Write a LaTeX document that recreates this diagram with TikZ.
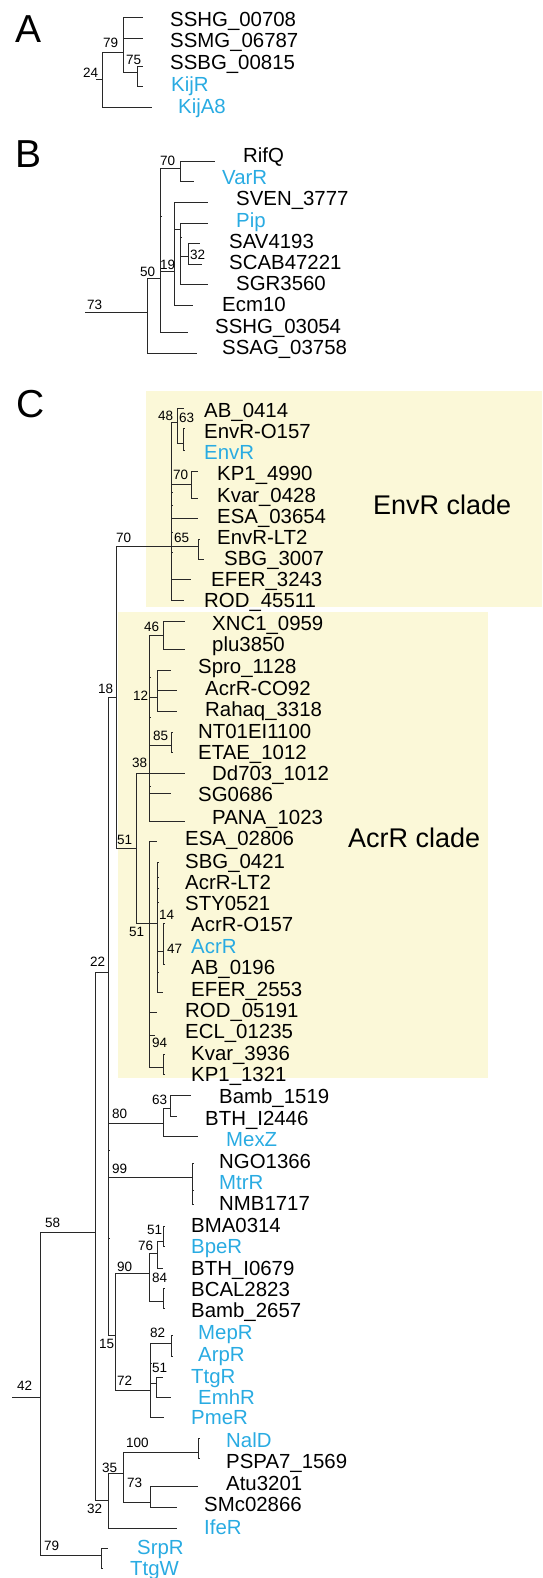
\documentclass[tikz,border=0pt]{standalone}
\usepackage{fontspec}
\setmainfont{Liberation Sans}
\definecolor{hitblue}{RGB}{41,171,226}
\definecolor{cladefill}{RGB}{251,248,216}
\definecolor{treegray}{RGB}{40,40,40}

\begin{document}
\begin{tikzpicture}[x=1pt, y=-1pt,
  leaf/.style={anchor=base west, inner sep=0pt, yshift=-7.3pt,
               font=\fontsize{20.4}{22}\selectfont},
  hit/.style={leaf, text=hitblue},
  bs/.style={anchor=base west, inner sep=0pt, yshift=-4.8pt,
             font=\fontsize{13.5}{15}\selectfont},
  panel/.style={anchor=base west, inner sep=0pt, yshift=-14pt,
                font=\fontsize{39}{40}\selectfont},
  cladename/.style={anchor=base west, inner sep=0pt, yshift=-9.7pt,
                    font=\fontsize{27}{28}\selectfont},
  cladebox/.style={fill=cladefill, draw=none},
  branch/.style={draw=treegray, line width=0.9pt}
]
\useasboundingbox (0,0) rectangle (542,1578);

% Clade backgrounds
\path[cladebox] (146,391) rectangle (542,607);
\path[cladebox] (118,612) rectangle (488,1078);
\node[cladename] (envrclade) at (373,505) {EnvR clade};
\node[cladename] (acrrclade) at (348,838) {AcrR clade};

% Panel letters
\node[panel] (pA) at (15,29)  {A};
\node[panel] (pB) at (15,154) {B};
\node[panel] (pC) at (16,403) {C};

%%%%%%%%%%%%%%%% Panel A
\coordinate (sA)   at (96,79);
\coordinate (nA24) at (102,79);
\coordinate (nA79) at (123,52);
\coordinate (nA75) at (137,72);
\coordinate (tA1)  at (143,17);
\coordinate (tA2)  at (143,38);
\coordinate (tA3)  at (143,66);
\coordinate (tA4)  at (143,86);
\coordinate (tA5)  at (152,107);

\draw[branch] (sA) -- (nA24) (nA24) |- (nA79) (nA24) |- (tA5);
\draw[branch] (nA79) |- (tA1) (nA79) |- (tA2) (nA79) |- (nA75);
\draw[branch] (nA75) |- (tA3) (nA75) |- (tA4);

\node[bs] (bA24) at (83,73)  {24};
\node[bs] (bA79) at (103,43) {79};
\node[bs] (bA75) at (126,60) {75};

\node[leaf] (sshg00708) at (170,19)  {SSHG\_00708};
\node[leaf] (ssmg06787) at (170,40)  {SSMG\_06787};
\node[leaf] (ssbg00815) at (170,62)  {SSBG\_00815};
\node[hit]  (kijr)      at (171,84)  {KijR};
\node[hit]  (kija8)     at (178,106) {KijA8};

%%%%%%%%%%%%%%%% Panel B
\coordinate (sB)    at (85,312);
\coordinate (nB0)   at (147,312);
\coordinate (nB50)  at (160,278);
\coordinate (nB70)  at (180,168);
\coordinate (nB19)  at (174,271);
\coordinate (nB19i) at (180,229);
\coordinate (nB32)  at (188,256);
\coordinate (tRifQ)  at (215,161);
\coordinate (tVarR)  at (194,181);
\coordinate (tSVEN)  at (208,202);
\coordinate (tPip)   at (208,223);
\coordinate (tSAV)   at (200,243);
\coordinate (tSCAB)  at (202,264);
\coordinate (tSGR)   at (208,284);
\coordinate (tEcm)   at (193,305);
\coordinate (tSSHGb) at (188,332);
\coordinate (tSSAG)  at (197,353);

\draw[branch] (sB) -- (nB0) (nB0) |- (nB50) (nB0) |- (tSSAG);
\draw[branch] (nB50) |- (nB70) (nB50) |- (nB19) (nB50) |- (tSSHGb);
\draw[branch] (nB70) |- (tRifQ) (nB70) |- (tVarR);
\draw[branch] (nB19) |- (tSVEN) (nB19) |- (nB19i) (nB19) |- (tEcm);
\draw[branch] (nB19i) |- (tPip) (nB19i) |- (nB32) (nB19i) |- (tSGR);
\draw[branch] (nB32) |- (tSAV) (nB32) |- (tSCAB);
\draw[branch] (160,216) -- ++(2,0) (180,237) -- ++(2,0);

\node[bs] (bB73) at (87,305)  {73};
\node[bs] (bB50) at (140,272) {50};
\node[bs] (bB70) at (160,161) {70};
\node[bs] (bB19) at (160,265) {19};
\node[bs] (bB32) at (190,255) {32};

\node[leaf] (rifq)      at (243,155) {RifQ};
\node[hit]  (varr)      at (222,177) {VarR};
\node[leaf] (sven3777)  at (236,198) {SVEN\_3777};
\node[hit]  (pip)       at (236,220) {Pip};
\node[leaf] (sav4193)   at (229,241) {SAV4193};
\node[leaf] (scab47221) at (229,262) {SCAB47221};
\node[leaf] (sgr3560)   at (236,283) {SGR3560};
\node[leaf] (ecm10)     at (222,304) {Ecm10};
\node[leaf] (sshg03054) at (215,326) {SSHG\_03054};
\node[leaf] (ssag03758) at (222,347) {SSAG\_03758};

%%%%%%%%%%%%%%%% Panel C
% backbone
\coordinate (sC)    at (12,1397);
\coordinate (nC42)  at (40,1397);
\coordinate (nC58)  at (95,1232);
\coordinate (nC79)  at (101,1555);
\coordinate (nC22)  at (108,972);
\coordinate (nC32)  at (108,1500);
\coordinate (nC18)  at (116,697);
\coordinate (nC80)  at (163,1123);
\coordinate (nC99)  at (192,1177);
\coordinate (nC15)  at (115,1335);
\coordinate (nC70)  at (171,546);
\coordinate (nC51o) at (136,848);

\draw[branch] (sC) -- (nC42) (nC42) |- (nC58) (nC42) |- (nC79);
\draw[branch] (nC58) |- (nC22) (nC58) |- (nC32);
\draw[branch] (nC22) |- (nC18) (nC22) |- (nC80) (nC22) |- (nC99) (nC22) |- (nC15);
\draw[branch] (nC18) |- (nC70) (nC18) |- (nC51o);
\draw[branch] (108,1150) -- ++(2,0) (108,1238) -- ++(2,0);

% EnvR clade
\coordinate (nC48)  at (177,422);
\coordinate (nC63)  at (183,443);
\coordinate (nC70b) at (191,484);
\coordinate (nC65)  at (198,546);
\coordinate (tAB0414)   at (184,408);
\coordinate (tEnvRO157) at (185,428);
\coordinate (tEnvR)     at (185,450);
\coordinate (tKP14990)  at (198,471);
\coordinate (tKvar0428) at (198,498);
\coordinate (tESA03654) at (198,518);
\coordinate (tEnvRLT2)  at (200,539);
\coordinate (tSBG3007)  at (204,559);
\coordinate (tEFER3243) at (191,579);
\coordinate (tROD45511) at (184,600);

\draw[branch] (nC70) |- (nC48) (nC70) |- (nC70b) (nC70) |- (tESA03654)
              (nC70) |- (nC65) (nC70) |- (tEFER3243) (nC70) |- (tROD45511);
\draw[branch] (nC48) |- (tAB0414) (nC48) |- (nC63);
\draw[branch] (nC63) |- (tEnvRO157) (nC63) |- (tEnvR);
\draw[branch] (nC70b) |- (tKP14990) (nC70b) |- (tKvar0428);
\draw[branch] (nC65) |- (tEnvRLT2) (nC65) |- (tSBG3007);
\draw[branch] (171,492) -- ++(2,0) (171,505) -- ++(2,0)
              (171,532) -- ++(2,0) (171,552) -- ++(2,0);

% AcrR clade
\coordinate (nC38)  at (149,773);
\coordinate (nC51i) at (149,923);
\coordinate (nC46)  at (163,635);
\coordinate (nC12)  at (157,697);
\coordinate (nC85)  at (171,745);
\coordinate (nC14)  at (157,923);
\coordinate (nC47)  at (163,951);
\coordinate (nC94)  at (163,1067);
\coordinate (tXNC1)     at (185,621);
\coordinate (tplu)      at (185,649);
\coordinate (tSpro)     at (171,670);
\coordinate (tAcrRCO92) at (177,690);
\coordinate (tRahaq)    at (177,711);
\coordinate (tNT01)     at (173,732);
\coordinate (tETAE)     at (173,752);
\coordinate (tDd703)    at (185,773);
\coordinate (tSG0686)   at (171,793);
\coordinate (tPANA)     at (185,821);
\coordinate (tESA02806) at (157,841);
\coordinate (tSBG0421)  at (159,862);
\coordinate (tEFER2553) at (163,992);
\coordinate (tAcrRO157) at (165,923);
\coordinate (tAB0196)   at (165,964);
\coordinate (tROD05191) at (157,1012);
\coordinate (tECL)      at (155,1035);
\coordinate (tKvar3936) at (165,1054);
\coordinate (tKP11321)  at (165,1074);

\draw[branch] (nC51o) |- (nC38) (nC51o) |- (nC51i);
\draw[branch] (nC38) |- (nC46) (nC38) |- (nC12) (nC38) |- (nC85) (nC38) |- (tDd703)
              (nC38) |- (tSG0686) (nC38) |- (tPANA);
\draw[branch] (nC46) |- (tXNC1) (nC46) |- (tplu);
\draw[branch] (nC12) |- (tSpro) (nC12) |- (tAcrRCO92) (nC12) |- (tRahaq);
\draw[branch] (nC85) |- (tNT01) (nC85) |- (tETAE);
\draw[branch] (nC51i) |- (tESA02806) (nC51i) |- (nC14) (nC51i) |- (tROD05191)
              (nC51i) |- (tECL) (nC51i) |- (nC94);
\draw[branch] (nC14) |- (tSBG0421) (nC14) |- (nC47) (nC14) |- (tEFER2553);
\draw[branch] (nC47) |- (tAcrRO157) (nC47) |- (tAB0196);
\draw[branch] (nC94) |- (tKvar3936) (nC94) |- (tKP11321);
\draw[branch] (149,677) -- ++(2,0) (149,717) -- ++(2,0) (149,786) -- ++(2,0)
              (157,877) -- ++(2,0) (157,888) -- ++(2,0) (157,902) -- ++(2,0)
              (157,972) -- ++(2,0);

% lower groups
\coordinate (nC63b) at (170,1108);
\coordinate (nC90)  at (149,1273);
\coordinate (nC76)  at (157,1253);
\coordinate (nC51b) at (163,1241);
\coordinate (nC84)  at (163,1301);
\coordinate (nC72)  at (150,1390);
\coordinate (nC82)  at (171,1343);
\coordinate (nC51c) at (156,1383);
\coordinate (nC35)  at (123,1473);
\coordinate (nC100) at (198,1452);
\coordinate (nC73)  at (150,1502);
\coordinate (tBamb1519)  at (191,1095);
\coordinate (tBTHI2446)  at (177,1116);
\coordinate (tMexZ)      at (198,1136);
\coordinate (tNGO1366)   at (194,1163);
\coordinate (tNMB1717)   at (194,1204);
\coordinate (tBMA0314)   at (165,1226);
\coordinate (tBpeR)      at (165,1246);
\coordinate (tBTHI0679)  at (163,1268);
\coordinate (tBCAL2823)  at (165,1288);
\coordinate (tBamb2657)  at (165,1308);
\coordinate (tMepR)      at (173,1335);
\coordinate (tArpR)      at (173,1356);
\coordinate (tTtgR)      at (163,1377);
\coordinate (tEmhR)      at (171,1397);
\coordinate (tPmeR)      at (164,1417);
\coordinate (tNalD)      at (200,1438);
\coordinate (tPSPA7)     at (200,1458);
\coordinate (tAtu3201)   at (198,1486);
\coordinate (tSMc02866)  at (177,1507);
\coordinate (tIfeR)      at (177,1528);
\coordinate (tSrpR)      at (108,1548);
\coordinate (tTtgW)      at (103,1568);

\draw[branch] (nC80) |- (nC63b) (nC80) |- (tMexZ);
\draw[branch] (nC63b) |- (tBamb1519) (nC63b) |- (tBTHI2446);
\draw[branch] (nC99) |- (tNGO1366) (nC99) |- (tNMB1717) (192,1190) -- ++(2,0);
\draw[branch] (nC15) |- (nC90) (nC15) |- (nC72);
\draw[branch] (nC90) |- (nC76) (nC90) |- (nC84);
\draw[branch] (nC76) |- (nC51b) (nC76) |- (tBTHI0679);
\draw[branch] (nC51b) |- (tBMA0314) (nC51b) |- (tBpeR);
\draw[branch] (nC84) |- (tBCAL2823) (nC84) |- (tBamb2657);
\draw[branch] (nC72) |- (nC82) (nC72) |- (nC51c) (nC72) |- (tPmeR) (150,1363) -- ++(2,0);
\draw[branch] (nC82) |- (tMepR) (nC82) |- (tArpR);
\draw[branch] (nC51c) |- (tTtgR) (nC51c) |- (tEmhR);
\draw[branch] (nC32) |- (nC35) (nC32) |- (tIfeR);
\draw[branch] (nC35) |- (nC100) (nC35) |- (nC73);
\draw[branch] (nC100) |- (tNalD) (nC100) |- (tPSPA7);
\draw[branch] (nC73) |- (tAtu3201) (nC73) |- (tSMc02866);
\draw[branch] (nC79) |- (tSrpR) (nC79) |- (tTtgW);

% support values
\node[bs] (bC70)  at (116,538)  {70};
\node[bs] (bC48)  at (158,416)  {48};
\node[bs] (bC63)  at (179,418)  {63};
\node[bs] (bC70b) at (173,475)  {70};
\node[bs] (bC65)  at (174,538)  {65};
\node[bs] (bC18)  at (98,689)   {18};
\node[bs] (bC46)  at (144,627)  {46};
\node[bs] (bC12)  at (133,696)  {12};
\node[bs] (bC85)  at (153,736)  {85};
\node[bs] (bC38)  at (132,763)  {38};
\node[bs] (bC51o) at (117,840)  {51};
\node[bs] (bC51i) at (129,932)  {51};
\node[bs] (bC14)  at (159,915)  {14};
\node[bs] (bC47)  at (167,949)  {47};
\node[bs] (bC94)  at (152,1043) {94};
\node[bs] (bC22)  at (90,962)   {22};
\node[bs] (bC58)  at (45,1223)  {58};
\node[bs] (bC80)  at (112,1114) {80};
\node[bs] (bC63b) at (152,1100) {63};
\node[bs] (bC99)  at (112,1169) {99};
\node[bs] (bC90)  at (117,1267) {90};
\node[bs] (bC76)  at (138,1246) {76};
\node[bs] (bC51b) at (147,1230) {51};
\node[bs] (bC84)  at (152,1278) {84};
\node[bs] (bC15)  at (99,1344)  {15};
\node[bs] (bC72)  at (117,1381) {72};
\node[bs] (bC82)  at (150,1333) {82};
\node[bs] (bC51c) at (152,1368) {51};
\node[bs] (bC42)  at (17,1386)  {42};
\node[bs] (bC35)  at (102,1468) {35};
\node[bs] (bC100) at (126,1443) {100};
\node[bs] (bC73)  at (127,1483) {73};
\node[bs] (bC32)  at (87,1509)  {32};
\node[bs] (bC79)  at (44,1546)  {79};

% leaf labels
\node[leaf] (ab0414)    at (204,410)  {AB\_0414};
\node[leaf] (envro157)  at (204,431)  {EnvR-O157};
\node[hit]  (envr)      at (204,452)  {EnvR};
\node[leaf] (kp14990)   at (217,473)  {KP1\_4990};
\node[leaf] (kvar0428)  at (217,495)  {Kvar\_0428};
\node[leaf] (esa03654)  at (217,516)  {ESA\_03654};
\node[leaf] (envrlt2)   at (217,537)  {EnvR-LT2};
\node[leaf] (sbg3007)   at (224,558)  {SBG\_3007};
\node[leaf] (efer3243)  at (211,579)  {EFER\_3243};
\node[leaf] (rod45511)  at (204,600)  {ROD\_45511};
\node[leaf] (xnc10959)  at (212,623)  {XNC1\_0959};
\node[leaf] (plu3850)   at (212,644)  {plu3850};
\node[leaf] (spro1128)  at (198,666)  {Spro\_1128};
\node[leaf] (acrrco92)  at (205,688)  {AcrR-CO92};
\node[leaf] (rahaq3318) at (205,709)  {Rahaq\_3318};
\node[leaf] (nt01)      at (198,731)  {NT01EI1100};
\node[leaf] (etae1012)  at (198,752)  {ETAE\_1012};
\node[leaf] (dd703)     at (212,773)  {Dd703\_1012};
\node[leaf] (sg0686)    at (198,794)  {SG0686};
\node[leaf] (pana1023)  at (212,817)  {PANA\_1023};
\node[leaf] (esa02806)  at (185,838)  {ESA\_02806};
\node[leaf] (sbg0421)   at (185,861)  {SBG\_0421};
\node[leaf] (acrrlt2)   at (185,882)  {AcrR-LT2};
\node[leaf] (sty0521)   at (185,903)  {STY0521};
\node[leaf] (acrro157)  at (191,924)  {AcrR-O157};
\node[hit]  (acrr)      at (191,946)  {AcrR};
\node[leaf] (ab0196)    at (191,967)  {AB\_0196};
\node[leaf] (efer2553)  at (191,989)  {EFER\_2553};
\node[leaf] (rod05191)  at (185,1010) {ROD\_05191};
\node[leaf] (ecl01235)  at (185,1031) {ECL\_01235};
\node[leaf] (kvar3936)  at (191,1053) {Kvar\_3936};
\node[leaf] (kp11321)   at (191,1074) {KP1\_1321};
\node[leaf] (bamb1519)  at (219,1096) {Bamb\_1519};
\node[leaf] (bthi2446)  at (205,1118) {BTH\_I2446};
\node[hit]  (mexz)      at (226,1139) {MexZ};
\node[leaf] (ngo1366)   at (219,1161) {NGO1366};
\node[hit]  (mtrr)      at (219,1182) {MtrR};
\node[leaf] (nmb1717)   at (219,1203) {NMB1717};
\node[leaf] (bma0314)   at (191,1225) {BMA0314};
\node[hit]  (bper)      at (191,1246) {BpeR};
\node[leaf] (bthi0679)  at (191,1268) {BTH\_I0679};
\node[leaf] (bcal2823)  at (191,1289) {BCAL2823};
\node[leaf] (bamb2657)  at (191,1310) {Bamb\_2657};
\node[hit]  (mepr)      at (198,1332) {MepR};
\node[hit]  (arpr)      at (198,1354) {ArpR};
\node[hit]  (ttgr)      at (191,1376) {TtgR};
\node[hit]  (emhr)      at (198,1397) {EmhR};
\node[hit]  (pmer)      at (191,1417) {PmeR};
\node[hit]  (nald)      at (226,1440) {NalD};
\node[leaf] (pspa7)     at (226,1461) {PSPA7\_1569};
\node[leaf] (atu3201)   at (226,1483) {Atu3201};
\node[leaf] (smc02866)  at (204,1504) {SMc02866};
\node[hit]  (ifer)      at (204,1527) {IfeR};
\node[hit]  (srpr)      at (137,1547) {SrpR};
\node[hit]  (ttgw)      at (130,1568) {TtgW};
\end{tikzpicture}
\end{document}
